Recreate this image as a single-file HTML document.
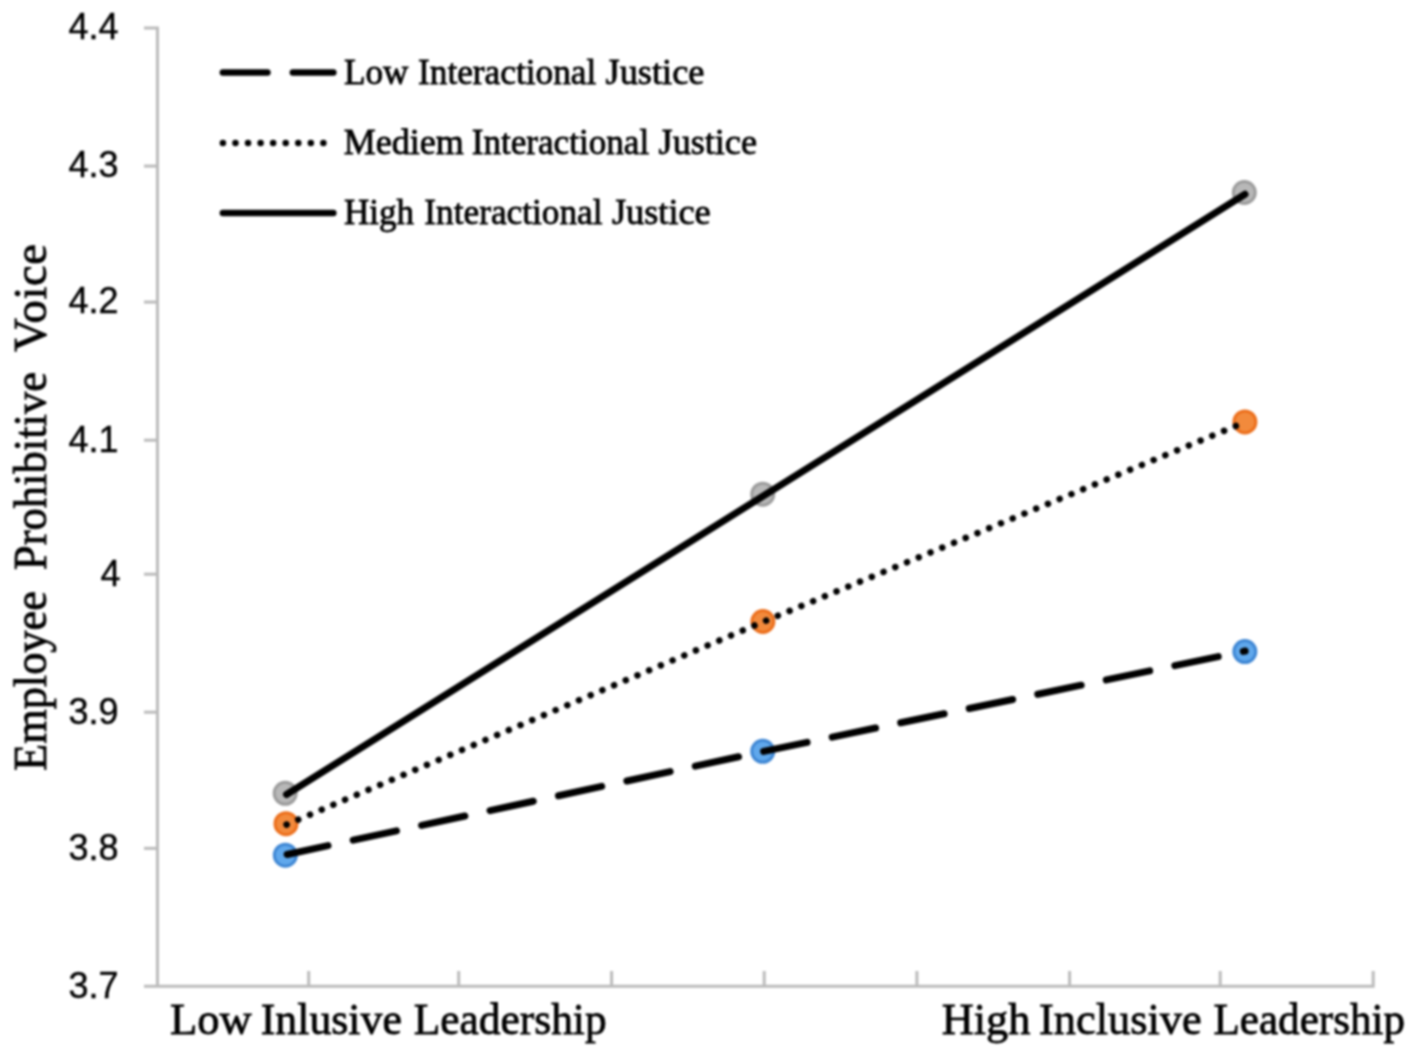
<!DOCTYPE html><html><head><meta charset="utf-8"><style>html,body{margin:0;padding:0;background:#fff;overflow:hidden}svg{display:block;filter:blur(0.8px)}</style></head><body>
<svg width="1418" height="1055" viewBox="0 0 1418 1055">
<rect width="1418" height="1055" fill="#fff"/>
<g stroke="#bbbbbb" stroke-width="3.0" fill="none">
<path d="M144,27.94 H157.46 V986.2"/>
<path d="M144,166.07 H157.46"/>
<path d="M144,302.07 H157.46"/>
<path d="M144,440.2 H157.46"/>
<path d="M144,574.2 H157.46"/>
<path d="M144,712.2 H157.46"/>
<path d="M144,848.35 H157.46"/>
<path d="M144,986.2 H1373.2 V971"/>
<path d="M308.7,971 V986.2"/>
<path d="M458.7,971 V986.2"/>
<path d="M611.6,971 V986.2"/>
<path d="M764.2,971 V986.2"/>
<path d="M916.9,971 V986.2"/>
<path d="M1069.6,971 V986.2"/>
<path d="M1220.2,971 V986.2"/>
</g>
<g font-family="Liberation Sans" font-size="36" fill="#000" stroke="#000" stroke-width="0.4">
<text x="68.5" y="39.34">4.4</text>
<text x="68.5" y="177.47">4.3</text>
<text x="68.5" y="313.47">4.2</text>
<text x="68.5" y="451.60">4.1</text>
<text x="100.6" y="585.60">4</text>
<text x="68.5" y="723.60">3.9</text>
<text x="68.5" y="859.75">3.8</text>
<text x="68.5" y="997.60">3.7</text>
</g>
<g font-family="Liberation Serif" fill="#000" stroke="#000" stroke-width="0.8">
<text x="343.91" y="84" font-size="35.5" textLength="64.57" lengthAdjust="spacingAndGlyphs">Low</text>
<text x="418.01" y="84" font-size="35.5" textLength="178.27" lengthAdjust="spacingAndGlyphs">Interactional</text>
<text x="605.58" y="84" font-size="35.5" textLength="98.78" lengthAdjust="spacingAndGlyphs">Justice</text>
<text x="343.69" y="154" font-size="35.5" textLength="120.03" lengthAdjust="spacingAndGlyphs">Mediem</text>
<text x="471.71" y="154" font-size="35.5" textLength="177.46" lengthAdjust="spacingAndGlyphs">Interactional</text>
<text x="658.58" y="154" font-size="35.5" textLength="98.37" lengthAdjust="spacingAndGlyphs">Justice</text>
<text x="343.91" y="224" font-size="35.5" textLength="70.09" lengthAdjust="spacingAndGlyphs">High</text>
<text x="424.31" y="224" font-size="35.5" textLength="178.27" lengthAdjust="spacingAndGlyphs">Interactional</text>
<text x="611.98" y="224" font-size="35.5" textLength="98.68" lengthAdjust="spacingAndGlyphs">Justice</text>
<text x="169.91" y="1033.5" font-size="45" textLength="81.79" lengthAdjust="spacingAndGlyphs">Low</text>
<text x="260.75" y="1033.5" font-size="45" textLength="141.08" lengthAdjust="spacingAndGlyphs">Inlusive</text>
<text x="413.74" y="1033.5" font-size="45" textLength="192.92" lengthAdjust="spacingAndGlyphs">Leadership</text>
<text x="941.71" y="1033.5" font-size="45" textLength="88.67" lengthAdjust="spacingAndGlyphs">High</text>
<text x="1039.03" y="1033.5" font-size="45" textLength="162.60" lengthAdjust="spacingAndGlyphs">Inclusive</text>
<text x="1213.54" y="1033.5" font-size="45" textLength="191.50" lengthAdjust="spacingAndGlyphs">Leadership</text>
</g>
<g font-family="Liberation Serif" fill="#000" stroke="#000" stroke-width="0.8" transform="translate(45.8,0) rotate(-90)">
<text x="-770.95" y="0" font-size="46.5" textLength="179.81" lengthAdjust="spacingAndGlyphs">Employee</text>
<text x="-570.16" y="0" font-size="46.5" textLength="198.26" lengthAdjust="spacingAndGlyphs">Prohibitive</text>
<text x="-351.80" y="0" font-size="46.5" textLength="107.80" lengthAdjust="spacing">Voice</text>
</g>
<g stroke="#000" stroke-width="6.5" stroke-linecap="round" fill="none">
<path d="M222.85,72.5 H333.35" stroke-dasharray="44.6 25.4"/>
<path d="M222.9,143 H323.4" stroke-dasharray="0.001 12.559"/>
<path d="M222.85,212.9 H333.35"/>
</g>
<circle cx="285.2" cy="793.3" r="11.0" fill="#b8b8b8" stroke="#9c9c9c" stroke-width="3"/>
<circle cx="762.75" cy="494.2" r="11.0" fill="#b8b8b8" stroke="#9c9c9c" stroke-width="3"/>
<circle cx="1244.3" cy="192.5" r="11.0" fill="#b8b8b8" stroke="#9c9c9c" stroke-width="3"/>
<circle cx="286" cy="823.7" r="11.0" fill="#f28a3c" stroke="#ec6f1c" stroke-width="3"/>
<circle cx="762.9" cy="621.5" r="11.0" fill="#f28a3c" stroke="#ec6f1c" stroke-width="3"/>
<circle cx="1244.9" cy="421.9" r="11.0" fill="#f28a3c" stroke="#ec6f1c" stroke-width="3"/>
<circle cx="285.35" cy="855.2" r="11.0" fill="#60a8ec" stroke="#3f87d4" stroke-width="3"/>
<circle cx="762.75" cy="751.3" r="11.0" fill="#60a8ec" stroke="#3f87d4" stroke-width="3"/>
<circle cx="1244.85" cy="651.6" r="11.0" fill="#60a8ec" stroke="#3f87d4" stroke-width="3"/>
<g stroke="#000" stroke-width="7" stroke-linecap="round" stroke-linejoin="round" fill="none">
<path d="M286.5,794.5 L1245,194.3"/>
<path d="M286.6,824.6 L763,621.9 L1245,422.2" stroke-width="6.6" stroke-dasharray="0.001 12.709"/>
<path d="M287.1,854.5 L763,751.5 L1245.1,651" stroke-dasharray="44.3 25.7" stroke-dashoffset="2.4"/>
</g>
</svg></body></html>
